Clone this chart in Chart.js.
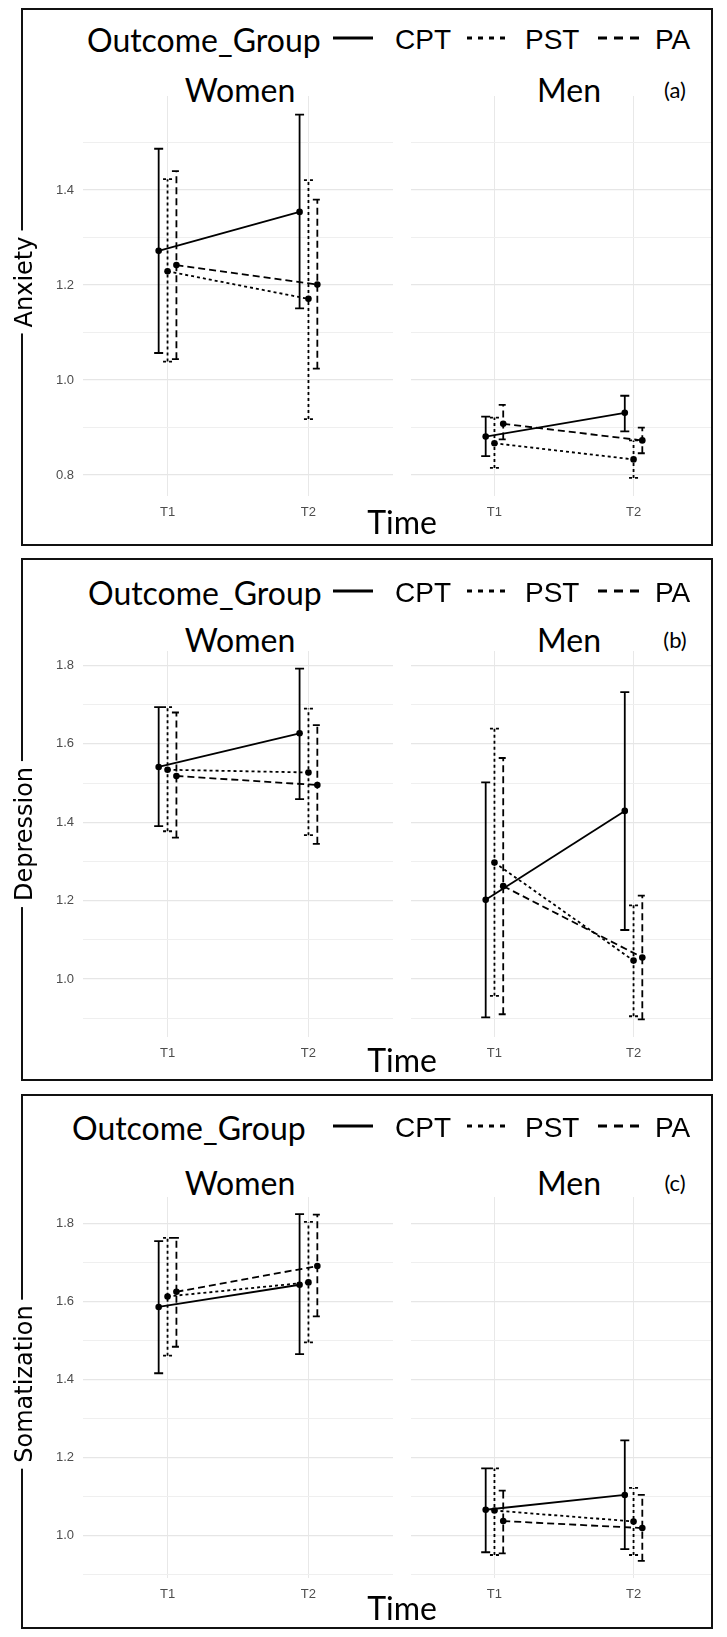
<!DOCTYPE html>
<html>
<head>
  <meta charset="utf-8">
  <title>Anxiety, Depression and Somatization by Outcome_Group</title>
  <script src="https://cdn.jsdelivr.net/npm/chart.js"></script>
  <style>
    body { margin: 0; background: #fff; }
    #page { position: relative; width: 727px; height: 1637px; overflow: hidden; }
    .frame { position: absolute; left: 21px; width: 692px; border: 2px solid #111; box-sizing: border-box; z-index: 2; pointer-events: none; }
    .txt { position: absolute; white-space: nowrap; color: #000; line-height: 1; }
    .big { font-family: Lato, "Open Sans", sans-serif; font-size: 32px; }
    .key { font-family: "Liberation Sans Narrow", "Liberation Sans", sans-serif; font-size: 28px; }
    .tag { font-family: Lato, sans-serif; font-size: 22px; }
    .ytitle { font-family: "DejaVu Sans", sans-serif; font-size: 24px; background: #fff; padding: 0 6px; z-index: 3; }
    .clip { position: absolute; overflow: hidden; }
    canvas { position: absolute; }
    svg { position: absolute; overflow: visible; }
  </style>
</head>
<body>
  <div id="page"></div>

  <script>
    // categories
    const timeLabels = ['T1', 'T2'];
    const groups = ['CPT', 'PST', 'PA'];
    const genders = ['Women', 'Men'];
    const outcomes = ['Anxiety', 'Depression', 'Somatization'];
    const panelTags = ['(a)', '(b)', '(c)'];

    // rows: Women CPT, Women PST, Women PA, Men CPT, Men PST, Men PA ; columns: T1, T2
    const anxietyMean = [[1.272, 1.354], [1.229, 1.171], [1.242, 1.201], [0.881, 0.931], [0.867, 0.833], [0.908, 0.873]];
    const anxietyLow  = [[1.057, 1.151], [1.039, 0.918], [1.044, 1.024], [0.840, 0.892], [0.815, 0.794], [0.875, 0.846]];
    const anxietyHigh = [[1.487, 1.559], [1.423, 1.421], [1.440, 1.380], [0.923, 0.967], [0.921, 0.873], [0.948, 0.900]];

    const depressionMean = [[1.541, 1.627], [1.534, 1.527], [1.518, 1.495], [1.202, 1.429], [1.297, 1.047], [1.237, 1.055]];
    const depressionLow  = [[1.390, 1.459], [1.377, 1.367], [1.361, 1.345], [0.902, 1.125], [0.957, 0.905], [0.910, 0.897]];
    const depressionHigh = [[1.694, 1.792], [1.694, 1.690], [1.680, 1.648], [1.502, 1.732], [1.639, 1.188], [1.564, 1.213]];

    const somatizationMean = [[1.586, 1.643], [1.613, 1.649], [1.625, 1.691], [1.066, 1.104], [1.064, 1.036], [1.037, 1.019]];
    const somatizationLow  = [[1.416, 1.465], [1.461, 1.495], [1.484, 1.562], [0.957, 0.965], [0.950, 0.950], [0.954, 0.935]];
    const somatizationHigh = [[1.755, 1.824], [1.763, 1.804], [1.763, 1.823], [1.172, 1.244], [1.172, 1.122], [1.115, 1.104]];

    const meanSets = [anxietyMean, depressionMean, somatizationMean];
    const lowSets = [anxietyLow, depressionLow, somatizationLow];
    const highSets = [anxietyHigh, depressionHigh, somatizationHigh];

    // page layout of the three boxes (pixels)
    const layout = [
      { top: 8,    bottom: 546,  legendY: 40,   stripY: 90,   plotTop: 92,   plotBottom: 496,  timeY: 522,  titleY: 282,  yMin: 0.756, yMax: 1.598, legendX: 87 },
      { top: 558,  bottom: 1081, legendY: 593,  stripY: 640,  plotTop: 647,  plotBottom: 1037, timeY: 1060, titleY: 834,  yMin: 0.852, yMax: 1.837, legendX: 88 },
      { top: 1094, bottom: 1629, legendY: 1128, stripY: 1183, plotTop: 1193, plotBottom: 1578, timeY: 1608, titleY: 1384, yMin: 0.891, yMax: 1.868, legendX: 72 }
    ];
    const dashes = [[], [3, 3], [7, 4]];
    const keyDashes = ['', '5 6', '9 7'];
    const DODGE = 0.063;     // position_dodge, in x units
    const CAP = 4.5;         // half width of the error bar caps
    const UNIT = 142.5;      // px per x unit
    const Y_AXIS_W = 45, X_AXIS_H = 30;
    const facetLeft = [83, 407];
    const innerRight = 711;

    const page = document.getElementById('page');

    function addText(cls, text, x, y, anchor) {
      const d = document.createElement('div');
      d.className = 'txt ' + cls;
      d.textContent = text;
      d.style.left = x + 'px';
      d.style.top = y + 'px';
      d.style.transform = anchor === 'left' ? 'translate(0,-50%)' : 'translate(-50%,-50%)';
      page.appendChild(d);
      return d;
    }

    function addKey(x1, x2, y, dash) {
      const s = document.createElementNS('http://www.w3.org/2000/svg', 'svg');
      s.setAttribute('width', x2 - x1);
      s.setAttribute('height', 4);
      s.style.left = x1 + 'px';
      s.style.top = (y - 2) + 'px';
      const l = document.createElementNS('http://www.w3.org/2000/svg', 'line');
      l.setAttribute('x1', 0); l.setAttribute('x2', x2 - x1);
      l.setAttribute('y1', 2); l.setAttribute('y2', 2);
      l.setAttribute('stroke', '#000');
      l.setAttribute('stroke-width', 3);
      if (dash) l.setAttribute('stroke-dasharray', dash);
      s.appendChild(l);
      page.appendChild(s);
    }

    // error bars drawn from the low/high arrays through the y scale
    const errorBarPlugin = {
      id: 'errorBars',
      beforeDatasetsDraw(chart) {
        const ctx = chart.ctx, y = chart.scales.y;
        chart.data.datasets.forEach((ds, i) => {
          const meta = chart.getDatasetMeta(i);
          ctx.save();
          ctx.strokeStyle = ds.borderColor;
          ctx.lineWidth = ds.borderWidth;
          ctx.setLineDash(ds.borderDash || []);
          meta.data.forEach((pt, j) => {
            const yl = y.getPixelForValue(ds.errLow[j]);
            const yh = y.getPixelForValue(ds.errHigh[j]);
            ctx.beginPath();
            ctx.moveTo(pt.x, yl); ctx.lineTo(pt.x, yh);
            ctx.moveTo(pt.x - CAP, yh); ctx.lineTo(pt.x + CAP, yh);
            ctx.moveTo(pt.x - CAP, yl); ctx.lineTo(pt.x + CAP, yl);
            ctx.stroke();
          });
          ctx.restore();
        });
      }
    };

    function makeFacet(p, g) {
      const L = layout[p];
      const showY = g === 0;
      const plotW = UNIT * 2.2;
      const plotH = L.plotBottom - L.plotTop;
      const canvas = document.createElement('canvas');
      const w = Math.round(plotW + (showY ? Y_AXIS_W : 0));
      const h = plotH + X_AXIS_H;
      canvas.width = w; canvas.height = h;
      canvas.style.width = w + 'px'; canvas.style.height = h + 'px';

      if (showY) {
        canvas.style.left = (facetLeft[g] - Y_AXIS_W) + 'px';
        canvas.style.top = L.plotTop + 'px';
        page.appendChild(canvas);
      } else {
        const clip = document.createElement('div');
        clip.className = 'clip';
        clip.style.left = facetLeft[g] + 'px';
        clip.style.top = L.plotTop + 'px';
        clip.style.width = (innerRight - facetLeft[g]) + 'px';
        clip.style.height = h + 'px';
        canvas.style.left = '0px'; canvas.style.top = '0px';
        clip.appendChild(canvas);
        page.appendChild(clip);
      }

      const datasets = groups.map((name, k) => {
        const row = g * 3 + k;
        const d = (k - 1) * DODGE;
        return {
          label: name,
          data: timeLabels.map((t, i) => ({ x: i + 1 + d, y: meanSets[p][row][i] })),
          errLow: lowSets[p][row],
          errHigh: highSets[p][row],
          borderColor: '#000',
          borderWidth: 1.8,
          borderDash: dashes[k],
          pointRadius: 3.3,
          pointBackgroundColor: '#000',
          pointBorderWidth: 0,
          tension: 0,
          clip: false
        };
      });

      new Chart(canvas.getContext('2d'), {
        type: 'line',
        data: { datasets: datasets },
        plugins: [errorBarPlugin],
        options: {
          responsive: false,
          animation: false,
          layout: { padding: 0 },
          plugins: { legend: { display: false }, tooltip: { enabled: false } },
          scales: {
            x: {
              type: 'linear', min: 0.4, max: 2.6,
              afterBuildTicks: s => { s.ticks = timeLabels.map((t, i) => ({ value: i + 1 })); },
              afterFit: s => { s.height = X_AXIS_H; s.paddingLeft = 0; s.paddingRight = 0; },
              ticks: {
                callback: v => timeLabels[Math.round(v) - 1],
                color: '#4d4d4d', padding: 9,
                font: { family: '"Liberation Sans Narrow", "Liberation Sans", sans-serif', size: 13 }
              },
              grid: { color: '#e8e8e8', lineWidth: 1, drawTicks: false },
              border: { display: false }
            },
            y: {
              type: 'linear', min: L.yMin, max: L.yMax,
              afterFit: s => { s.width = showY ? Y_AXIS_W : 0; s.paddingTop = 0; s.paddingBottom = 0; },
              ticks: {
                display: showY, stepSize: 0.1, includeBounds: false, autoSkip: false,
                callback: v => (Math.round(v * 10) % 2 === 0 ? v.toFixed(1) : ''),
                color: '#4d4d4d', padding: 9,
                font: { family: '"Liberation Sans Narrow", "Liberation Sans", sans-serif', size: 13 }
              },
              grid: {
                color: c => (Math.round(c.tick.value * 10) % 2 === 0 ? '#e6e6e6' : '#efefef'),
                lineWidth: c => (Math.round(c.tick.value * 10) % 2 === 0 ? 1.2 : 1),
                drawTicks: false
              },
              border: { display: false }
            }
          }
        }
      });
    }

    layout.forEach((L, p) => {
      const frame = document.createElement('div');
      frame.className = 'frame';
      frame.style.top = L.top + 'px';
      frame.style.height = (L.bottom - L.top) + 'px';
      page.appendChild(frame);

      // legend
      addText('big', 'Outcome_Group', L.legendX, L.legendY, 'left');
      addKey(333, 373, L.legendY - 2, keyDashes[0]);
      addText('key', groups[0], 395, L.legendY, 'left');
      addKey(467, 505, L.legendY - 2, keyDashes[1]);
      addText('key', groups[1], 525, L.legendY, 'left');
      addKey(598, 640, L.legendY - 2, keyDashes[2]);
      addText('key', groups[2], 655, L.legendY, 'left');

      // strips
      addText('big', genders[0], 240, L.stripY);
      addText('big', genders[1], 569, L.stripY);
      addText('tag', panelTags[p], 675, L.stripY);

      makeFacet(p, 0);
      makeFacet(p, 1);

      addText('big', 'Time', 402, L.timeY);
      const t = addText('ytitle', outcomes[p], 24, L.titleY);
      t.style.transform = 'translate(-50%,-50%) rotate(-90deg)';
    });
  </script>
</body>
</html>
